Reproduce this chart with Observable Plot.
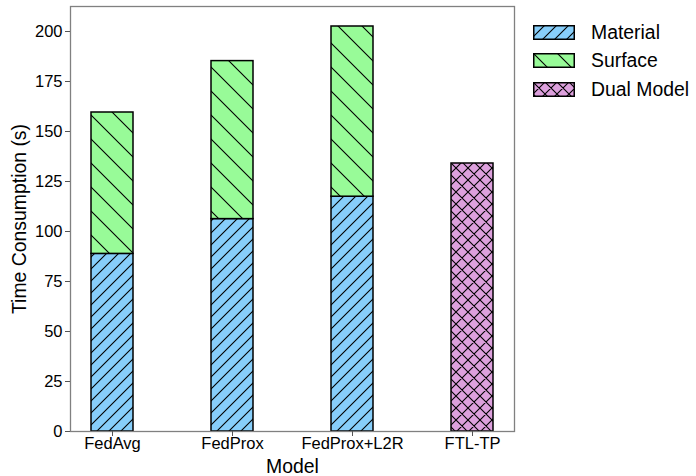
<!DOCTYPE html>
<html>
<head>
<meta charset="utf-8">
<script src="https://cdn.jsdelivr.net/npm/d3@7"></script>
<script src="https://cdn.jsdelivr.net/npm/@observablehq/plot@0.6"></script>
<style>
  html, body { margin: 0; padding: 0; background: #fff; }
  #wrap { position: relative; width: 696px; height: 476px; font-family: "Liberation Sans", Arial, sans-serif; }
  #wrap svg { font-family: "Liberation Sans", Arial, sans-serif; }
  g[aria-label="y-axis label"], g[aria-label="x-axis label"] { font-size: 19.4px; }
  #legend { position: absolute; left: 533px; top: 18px; }
  .row { display: flex; align-items: center; height: 28.5px; }
  .row svg { display: block; }
  .row span { margin-left: 16px; font-size: 19.4px; color: #000; }
</style>
</head>
<body>
<div id="wrap"></div>
<script>
const models = ["FedAvg", "FedProx", "FedProx+L2R", "FTL-TP"];
const seriesNames = ["Material", "Surface", "Dual Model"];
const material = [88.8, 106.2, 117.4, null];
const surface = [70.7, 79.0, 85.1, null];
const dual = [null, null, null, 134.0];
const yTicks = [0, 25, 50, 75, 100, 125, 150, 175, 200];

const colors = ["#87CEFA", "#98FB98", "#DDA0DD"];
const patternIds = ["hatch-material", "hatch-surface", "hatch-dual"];

const valuesBySeries = [material, surface, dual];
const rows = [];
seriesNames.forEach((s, si) => {
  models.forEach((m, mi) => {
    const v = valuesBySeries[si][mi];
    if (v != null) rows.push({model: m, series: s, si, value: v});
  });
});

const chart = Plot.plot({
  width: 696,
  height: 476,
  marginLeft: 70,
  marginRight: 182,
  marginTop: 6,
  marginBottom: 45,
  style: {fontFamily: "Liberation Sans, Arial, sans-serif", fontSize: "16.5px", color: "#000", background: "#fff"},
  x: {domain: models, paddingInner: 0.65, paddingOuter: 0.171, label: "Model"},
  y: {domain: [0, 212.5], label: "Time Consumption (s)"},
  color: {type: "identity"},
  marks: [
    Plot.barY(rows, Plot.stackY({
      x: "model",
      y: "value",
      fill: d => `url(#${patternIds[d.si]})`,
      stroke: "#000",
      strokeWidth: 1.5
    })),
    Plot.frame({stroke: "#808080", strokeWidth: 1.3}),
    Plot.axisY({ticks: yTicks, tickSize: 5, tickPadding: 3, stroke: "#555", fontSize: 16.5, label: "Time Consumption (s)", labelAnchor: "center", labelArrow: "none", labelOffset: 58}),
    Plot.axisX({tickSize: 5, tickPadding: 1, stroke: "#555", fontSize: 16.5, label: "Model", labelAnchor: "center", labelArrow: "none", labelOffset: 41})
  ]
});

// hatch patterns
const ns = "http://www.w3.org/2000/svg";
const defs = document.createElementNS(ns, "defs");
function makePattern(id, size, bg, paths) {
  const p = document.createElementNS(ns, "pattern");
  p.setAttribute("id", id);
  p.setAttribute("patternUnits", "userSpaceOnUse");
  p.setAttribute("width", size);
  p.setAttribute("height", size);
  const r = document.createElementNS(ns, "rect");
  r.setAttribute("width", size);
  r.setAttribute("height", size);
  r.setAttribute("fill", bg);
  p.appendChild(r);
  const path = document.createElementNS(ns, "path");
  path.setAttribute("d", paths);
  path.setAttribute("stroke", "#000");
  path.setAttribute("stroke-width", "1.1");
  path.setAttribute("fill", "none");
  p.appendChild(path);
  defs.appendChild(p);
}
const s1 = 12, s2 = 24, s3 = 12;
makePattern(patternIds[0], s1, colors[0], `M-1,${s1 + 1}L${s1 + 1},-1M-1,1L1,-1M${s1 - 1},${s1 + 1}L${s1 + 1},${s1 - 1}`);
makePattern(patternIds[1], s2, colors[1], `M-1,-1L${s2 + 1},${s2 + 1}M${s2 - 1},-1L${s2 + 1},1M-1,${s2 - 1}L1,${s2 + 1}`);
makePattern(patternIds[2], s3, colors[2], `M-1,${s3 + 1}L${s3 + 1},-1M-1,1L1,-1M${s3 - 1},${s3 + 1}L${s3 + 1},${s3 - 1}M-1,-1L${s3 + 1},${s3 + 1}M${s3 - 1},-1L${s3 + 1},1M-1,${s3 - 1}L1,${s3 + 1}`);
chart.insertBefore(defs, chart.firstChild);

const wrap = document.getElementById("wrap");
wrap.appendChild(chart);

// legend
const legend = document.createElement("div");
legend.id = "legend";
seriesNames.forEach((s, i) => {
  const row = document.createElement("div");
  row.className = "row";
  const sw = document.createElementNS(ns, "svg");
  sw.setAttribute("width", 42);
  sw.setAttribute("height", 15);
  const r = document.createElementNS(ns, "rect");
  r.setAttribute("x", 0.75);
  r.setAttribute("y", 0.75);
  r.setAttribute("width", 40.5);
  r.setAttribute("height", 13.5);
  r.setAttribute("fill", `url(#${patternIds[i]})`);
  r.setAttribute("stroke", "#000");
  r.setAttribute("stroke-width", 1.5);
  sw.appendChild(r);
  row.appendChild(sw);
  const t = document.createElement("span");
  t.textContent = s;
  row.appendChild(t);
  legend.appendChild(row);
});
wrap.appendChild(legend);
</script>
</body>
</html>
